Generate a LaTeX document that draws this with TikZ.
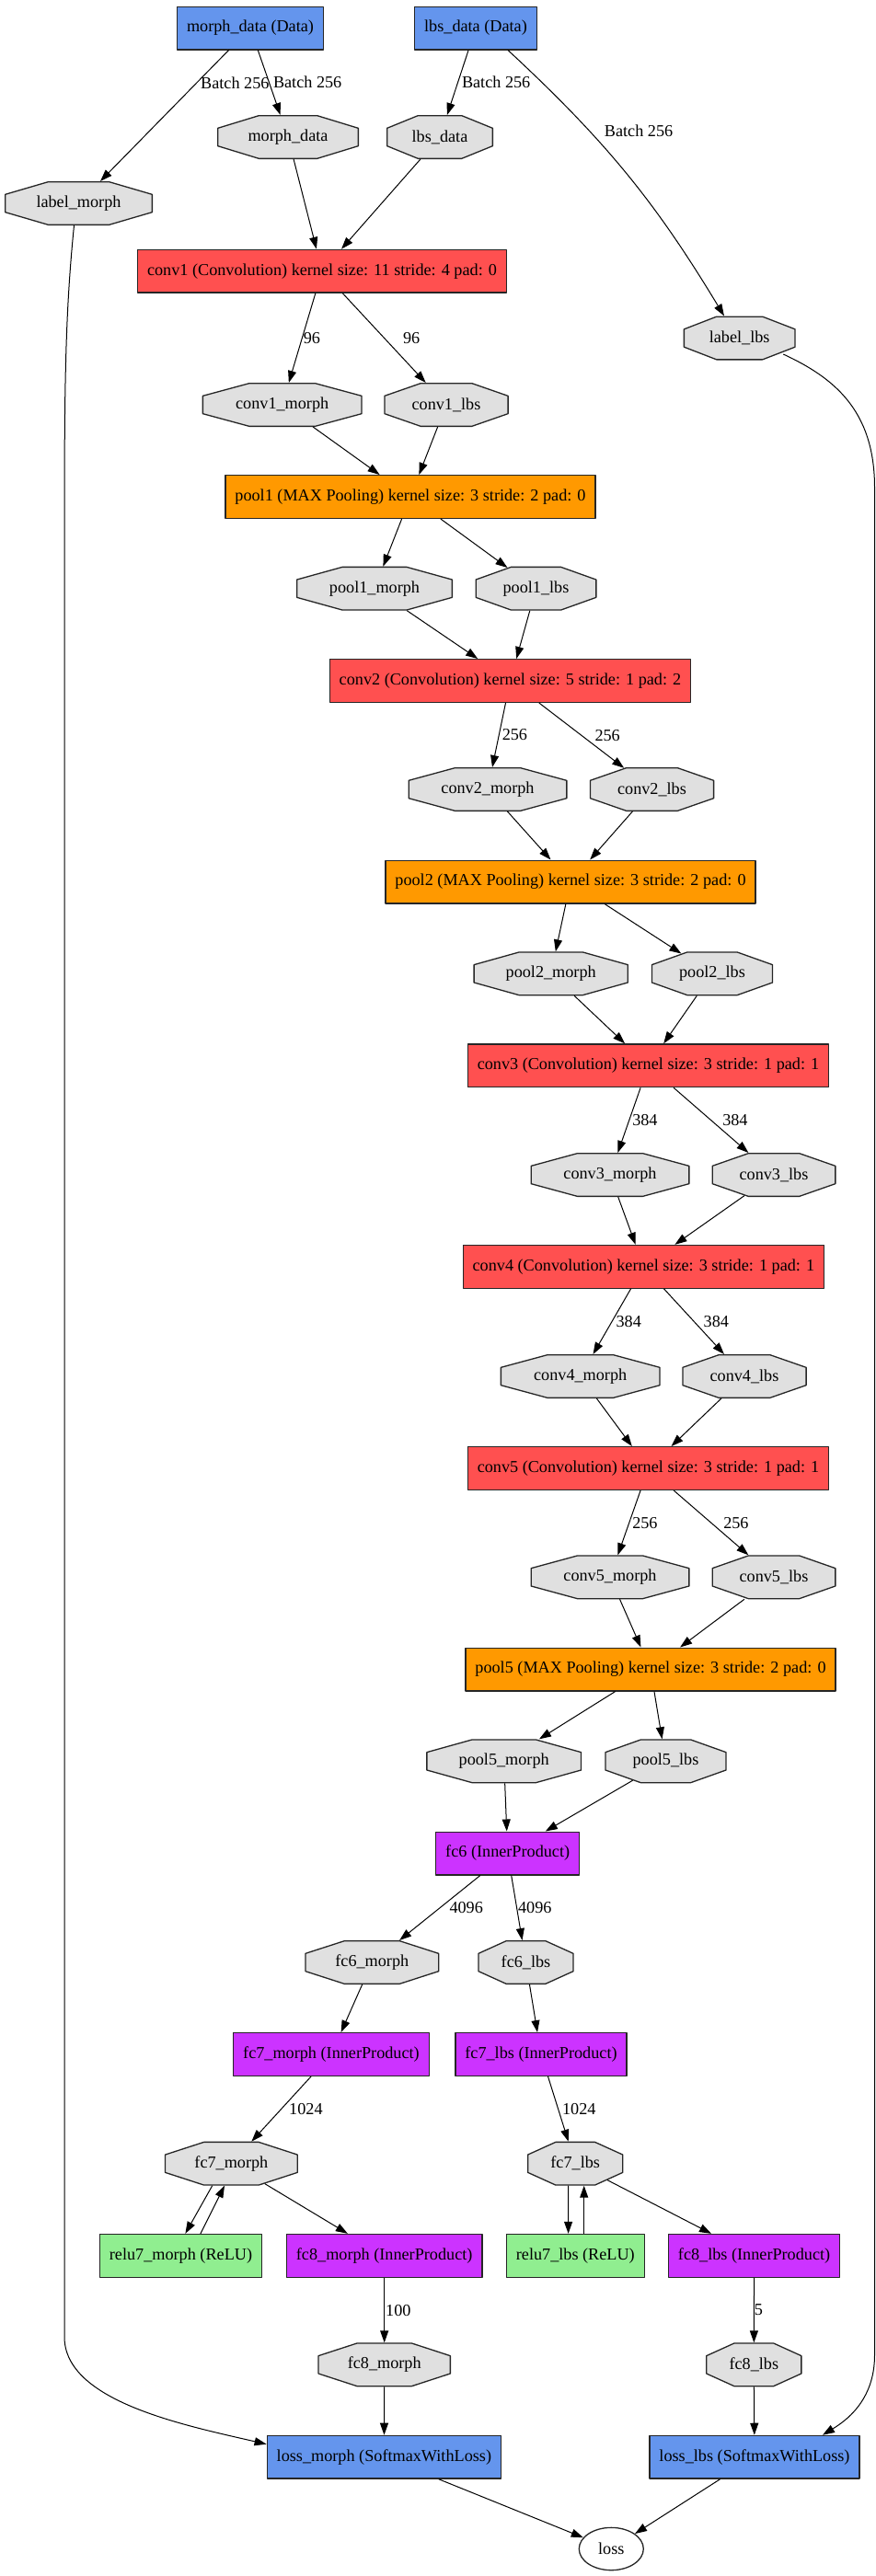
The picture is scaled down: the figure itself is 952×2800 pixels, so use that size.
\documentclass[tikz,border=0pt]{standalone}
\usepackage{fontspec}
\setmainfont{Liberation Serif}
\usetikzlibrary{arrows.meta,calc,shapes.geometric}
\definecolor{datablue}{HTML}{6495ED}
\definecolor{convred}{HTML}{FF5050}
\definecolor{poolorange}{HTML}{FF9900}
\definecolor{ippurple}{HTML}{CC33FF}
\definecolor{relugreen}{HTML}{90EE90}
\definecolor{blobgray}{HTML}{E0E0E0}
\tikzset{
  layer/.style={draw=black!85, line width=1.3pt, minimum height=46.7pt, inner xsep=10.5pt, inner ysep=0pt},
  blob/.style={minimum height=48pt, inner sep=0pt, outer sep=0pt,
    path picture={
      \coordinate (octsw) at ($(path picture bounding box.south west)+(0.65pt,0.65pt)$);
      \coordinate (octne) at ($(path picture bounding box.north east)-(0.65pt,0.65pt)$);
      \draw[draw=black!85, fill=blobgray, line width=1.3pt]
        ($(octsw)!0.293!(octsw|-octne)$) -- ($(octsw)!0.707!(octsw|-octne)$)
        -- ($(octsw|-octne)!0.293!(octne)$) -- ($(octsw|-octne)!0.707!(octne)$)
        -- ($(octne)!0.293!(octne|-octsw)$) -- ($(octne)!0.707!(octne|-octsw)$)
        -- ($(octne|-octsw)!0.293!(octsw)$) -- ($(octne|-octsw)!0.707!(octsw)$) -- cycle;
    }},
  conn/.style={->, line width=1pt},
  elabel/.style={inner sep=0pt}
}
\begin{document}
\begin{tikzpicture}[x=1pt, y=-1pt, >={Triangle[length=13pt,width=9pt]}, font=\fontsize{18.2}{21}\selectfont, line join=round]
    \useasboundingbox (0,0) rectangle (952,2800);
    % layers
    \node[layer, fill=datablue] (morphdata) at (272,30.5) {morph\_data (Data)};
    \node[layer, fill=datablue] (lbsdata) at (517,30.5) {lbs\_data (Data)};
    \node[layer, fill=convred] (conv1) at (350,294.7) {conv1 (Convolution) kernel size: 11 stride: 4 pad: 0};
    \node[layer, fill=poolorange] (pool1) at (446,540) {pool1 (MAX Pooling) kernel size: 3 stride: 2 pad: 0};
    \node[layer, fill=convred] (conv2) at (554.5,740) {conv2 (Convolution) kernel size: 5 stride: 1 pad: 2};
    \node[layer, fill=poolorange] (pool2) at (620,958.5) {pool2 (MAX Pooling) kernel size: 3 stride: 2 pad: 0};
    \node[layer, fill=convred] (conv3) at (704.5,1158.3) {conv3 (Convolution) kernel size: 3 stride: 1 pad: 1};
    \node[layer, fill=convred] (conv4) at (699.4,1376.8) {conv4 (Convolution) kernel size: 3 stride: 1 pad: 1};
    \node[layer, fill=convred] (conv5) at (704.5,1596) {conv5 (Convolution) kernel size: 3 stride: 1 pad: 1};
    \node[layer, fill=poolorange] (pool5) at (707,1814.5) {pool5 (MAX Pooling) kernel size: 3 stride: 2 pad: 0};
    \node[layer, fill=ippurple] (fc6) at (551.7,2014.5) {fc6 (InnerProduct)};
    \node[layer, fill=ippurple] (fc7morph) at (360,2233) {fc7\_morph (InnerProduct)};
    \node[layer, fill=ippurple] (fc7lbs) at (588,2233) {fc7\_lbs (InnerProduct)};
    \node[layer, fill=relugreen] (relu7morph) at (196.5,2451.8) {relu7\_morph (ReLU)};
    \node[layer, fill=ippurple] (fc8morph) at (417.7,2451.8) {fc8\_morph (InnerProduct)};
    \node[layer, fill=relugreen] (relu7lbs) at (625.3,2451.8) {relu7\_lbs (ReLU)};
    \node[layer, fill=ippurple] (fc8lbs) at (819.6,2451.8) {fc8\_lbs (InnerProduct)};
    \node[layer, fill=datablue] (lossmorph) at (417.4,2670.7) {loss\_morph (SoftmaxWithLoss)};
    \node[layer, fill=datablue] (losslbs) at (820,2670.7) {loss\_lbs (SoftmaxWithLoss)};
    \node[ellipse, draw=black!85, line width=1.3pt, fill=white, minimum width=70pt, minimum height=46.3pt, inner sep=0pt] (loss) at (664.3,2770.5) {loss};
    % blobs
    \foreach \nm/\x/\y/\w/\txt in {morphdata-b/313/149/154/morph\_data, lbsdata-b/478/149/116/lbs\_data,
        labelmorph-b/85.5/221/161/label\_morph, labellbs-b/803.7/367.5/122/label\_lbs,
        conv1morph-b/306.7/440/174/conv1\_morph, conv1lbs-b/485/440/135.5/conv1\_lbs,
        pool1morph-b/407/639.7/170/pool1\_morph, pool1lbs-b/582.5/639.7/132/pool1\_lbs,
        conv2morph-b/530/858/173/conv2\_morph, conv2lbs-b/708.5/858/135.5/conv2\_lbs,
        pool2morph-b/598.7/1058.3/168.5/pool2\_morph, pool2lbs-b/774/1058.3/132.4/pool2\_lbs,
        conv3morph-b/663/1277/173/conv3\_morph, conv3lbs-b/841/1277/135/conv3\_lbs,
        conv4morph-b/630.7/1496/174/conv4\_morph, conv4lbs-b/809/1496/135.5/conv4\_lbs,
        conv5morph-b/663/1714.3/173/conv5\_morph, conv5lbs-b/841/1714.3/135/conv5\_lbs,
        pool5morph-b/547.7/1914.3/169/pool5\_morph, pool5lbs-b/723.5/1914.3/132.4/pool5\_lbs,
        fc6morph-b/404.3/2133/146/fc6\_morph, fc6lbs-b/571.5/2133/104.3/fc6\_lbs,
        fc7morph-b/251.4/2351.7/145/fc7\_morph, fc7lbs-b/625.2/2351.7/104.4/fc7\_lbs,
        fc8morph-b/417.7/2570.3/144.6/fc8\_morph, fc8lbs-b/819.3/2570.3/104.4/fc8\_lbs}
        \node[blob, minimum width=\w] (\nm) at (\x,\y) {\txt};
    % labelled connectors
    \draw[conn] (morphdata) -- node[elabel, pos=0.25, right=4pt] {Batch 256} (labelmorph-b);
    \draw[conn] (morphdata) -- node[elabel, right=4pt] {Batch 256} (morphdata-b);
    \draw[conn] (lbsdata) -- node[elabel, right=4pt] {Batch 256} (lbsdata-b);
    \draw[conn] ([xshift=35pt]lbsdata.south) to[bend left=8] node[elabel, pos=0.32, right=16pt] {Batch 256} ([xshift=-16.7pt]labellbs-b.north);
    \draw[conn] (conv1) -- node[elabel, right=1pt] {96} (conv1morph-b);
    \draw[conn] (conv1) -- node[elabel, right=20pt] {96} (conv1lbs-b);
    \draw[conn] (conv2) -- node[elabel, right=3pt] {256} (conv2morph-b);
    \draw[conn] (conv2) -- node[elabel, right=14pt] {256} ([shift={(-30.3pt,23.2pt)}]conv2lbs-b.center);
    \draw[conn] (conv3) -- node[elabel, right=3pt] {384} (conv3morph-b);
    \draw[conn] (conv3) -- node[elabel, right=12pt] {384} (conv3lbs-b);
    \draw[conn] (conv4) -- node[elabel, right=4pt] {384} (conv4morph-b);
    \draw[conn] (conv4) -- node[elabel, right=10pt] {384} (conv4lbs-b);
    \draw[conn] (conv5) -- node[elabel, right=3pt] {256} (conv5morph-b);
    \draw[conn] (conv5) -- node[elabel, right=13pt] {256} (conv5lbs-b);
    \draw[conn] (fc6) -- node[elabel, right=10pt] {4096} (fc6morph-b);
    \draw[conn] (fc6) -- node[elabel, right=1pt] {4096} (fc6lbs-b);
    \draw[conn] (fc7morph) -- node[elabel, right=8pt] {1024} (fc7morph-b);
    \draw[conn] (fc7lbs) -- node[elabel, right=4pt] {1024} (fc7lbs-b);
    \draw[conn] (fc8morph) -- node[elabel, right=1pt] {100} (fc8morph-b);
    \draw[conn] (fc8lbs) -- node[elabel, right=0pt] {5} (fc8lbs-b);
    % plain connectors
    \foreach \src/\dst in {morphdata-b/conv1, lbsdata-b/conv1, conv1morph-b/pool1, conv1lbs-b/pool1,
        pool1/pool1morph-b, pool1morph-b/conv2, pool1lbs-b/conv2, conv2morph-b/pool2, conv2lbs-b/pool2,
        pool2/pool2morph-b, pool2morph-b/conv3, pool2lbs-b/conv3, conv3morph-b/conv4,
        conv4morph-b/conv5, conv4lbs-b/conv5, conv5morph-b/pool5, conv5lbs-b/pool5,
        pool5/pool5morph-b, pool5/pool5lbs-b, pool5morph-b/fc6, fc6morph-b/fc7morph, fc6lbs-b/fc7lbs,
        fc8morph-b/lossmorph, fc8lbs-b/losslbs, lossmorph/loss, losslbs/loss}
        \draw[conn] (\src) -- (\dst);
    % connectors leaving or entering a slanted side
    \draw[conn] (pool1) -- ([shift={(-31pt,22.65pt)}]pool1lbs-b.center);
    \draw[conn] (pool2) -- ([shift={(-33.6pt,21.8pt)}]pool2lbs-b.center);
    \draw[conn] ([shift={(-32pt,-22.6pt)}]conv3lbs-b.center) -- (conv4);
    \draw[conn] ([shift={(-35.9pt,-20.9pt)}]pool5lbs-b.center) -- (fc6);
    \draw[conn] ([shift={(36.4pt,-21.9pt)}]fc7morph-b.center) -- (fc8morph);
    \draw[conn] ([shift={(34.8pt,-17.9pt)}]fc7lbs-b.center) -- (fc8lbs);
    % relu loops
    \draw[conn] ([xshift=-20.7pt]fc7morph-b.south) -- ([xshift=4.9pt]relu7morph.north);
    \draw[conn] ([xshift=21.4pt]relu7morph.north) -- ([xshift=-7.4pt]fc7morph-b.south);
    \draw[conn] ([xshift=-7.6pt]fc7lbs-b.south) -- ([xshift=-7.7pt]relu7lbs.north);
    \draw[conn] ([xshift=9.4pt]relu7lbs.north) -- ([xshift=9.5pt]fc7lbs-b.south);
    % labels to the losses
    \draw[conn] ([xshift=-5pt]labelmorph-b.south) .. controls (72,330) and (70,400) .. (70,560) -- (70,2540)
        .. controls (70,2610) and (200,2636) .. ([yshift=14pt]lossmorph.west);
    \draw[conn] ([shift={(47.6pt,-17.5pt)}]labellbs-b.center) .. controls (905,410) and (950.5,445) .. (950.5,530) -- (950.5,2560)
        .. controls (950.5,2610) and (918,2632) .. ([xshift=74pt]losslbs.north);
\end{tikzpicture}
\end{document}
